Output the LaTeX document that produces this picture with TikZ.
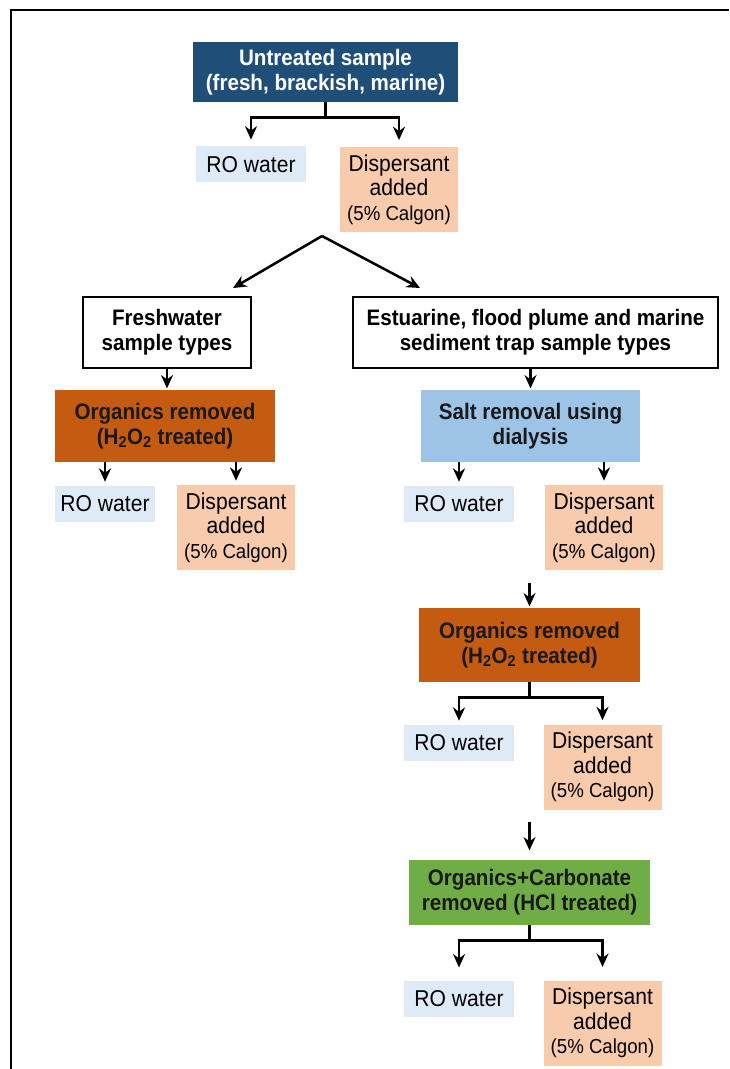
\documentclass[tikz,border=0pt]{standalone}
\usepackage{fontspec}
\setmainfont{Liberation Sans}[FakeStretch=0.92]
\usepackage{xcolor}
\usetikzlibrary{positioning,arrows.meta}
\definecolor{navy}{HTML}{1F4E79}
\definecolor{roblue}{HTML}{DEEBF7}
\definecolor{peach}{HTML}{F8CBAD}
\definecolor{rust}{HTML}{C55A11}
\definecolor{saltblue}{HTML}{9DC3E6}
\definecolor{leaf}{HTML}{70AD47}
\newcommand{\bx}{\bfseries\fontsize{16.8}{18.5}\selectfont}
\newcommand{\rg}{\fontsize{17.2}{18.5}\selectfont}
\newcommand{\disptext}{Dispersant\\added\\{\fontsize{15.2}{17}\selectfont(5\% Calgon)}}

\begin{document}
\begin{tikzpicture}[x=0.75pt, y=-0.75pt,
  hdr/.style = {rectangle, fill=navy, text=white, font=\bx, align=center, minimum width=198.75pt, minimum height=45pt},
  typ/.style = {draw, rectangle, line width=1.1pt, font=\bx, align=center, minimum height=53.5pt},
  trt/.style = {rectangle, font=\bx, text=black!90, align=center, minimum height=54pt},
  ro/.style = {rectangle, fill=roblue, font=\rg, minimum width=82.5pt, minimum height=27pt},
  disp/.style = {rectangle, fill=peach, font=\rg, align=center, minimum width=88.5pt, minimum height=63.75pt, inner sep=0pt},
  arr/.style = {-{Stealth[length=10pt,width=9pt]}, line width=1.9pt}]
		\useasboundingbox (0,0) rectangle (729,1069);
		\draw[line width=1.6pt] (11,1069) -- (11,10) -- (729,10);
		\node[hdr] (top) at (325.5,72) {Untreated sample\\(fresh, brackish, marine)};
		\node[ro] (ro1) at (251,164.5) {RO water};
		\node[disp] (dis1) at (399,189.5) {\disptext};
		\coordinate (apex) at (322,236);
		\coordinate (fwtip) at (233,288);
		\coordinate (esttip) at (420,288);
		\node[typ, minimum width=126pt] (fw) at (167,332.5) {Freshwater\\sample types};
		\node[typ, minimum width=273.75pt] (est) at (535.5,332.5) {Estuarine, flood plume and marine\\sediment trap sample types};
		\node[trt, fill=rust, minimum width=165pt] (org1) at (165,426) {Organics removed\\(H\textsubscript{2}O\textsubscript{2} treated)};
		\node[trt, fill=saltblue, minimum width=164.25pt] (salt) at (530.5,426) {Salt removal using\\dialysis};
		\node[ro, minimum width=75pt] (ro2) at (105,504) {RO water};
		\node[disp] (dis2) at (236,527.5) {\disptext};
		\node[ro] (ro3) at (459,504) {RO water};
		\node[disp] (dis3) at (604,527.5) {\disptext};
		\node[trt, fill=rust, minimum width=165.75pt, minimum height=55.5pt] (org2) at (529.5,645) {Organics removed\\(H\textsubscript{2}O\textsubscript{2} treated)};
		\node[ro] (ro4) at (459,743) {RO water};
		\node[disp] (dis4) at (602.5,767) {\disptext};
		\node[trt, fill=leaf, minimum width=180.75pt, minimum height=48.75pt] (carb) at (529.5,892.5) {Organics+Carbonate\\removed (HCl treated)};
		\node[ro] (ro5) at (459,999) {RO water};
		\node[disp] (dis5) at (602.5,1023) {\disptext};
		\draw[arr, shorten >=5pt] (top.south) -- ++(0,15) -| (ro1.north);
		\draw[arr, shorten >=5pt] (top.south) -- ++(0,15) -| (dis1.north);
		\draw[arr] (apex) -- (fwtip);
		\draw[arr] (apex) -- (esttip);
		\draw[arr, shorten >=1pt] (fw.south) -- (org1.north -| fw.south);
		\draw[arr, shorten >=1pt] (est.south -| salt.north) -- (salt.north);
		\draw[arr, shorten >=3pt] (org1.south -| ro2.north) -- (ro2.north);
		\draw[arr, shorten >=3pt] (org1.south -| dis2.north) -- (dis2.north);
		\draw[arr, shorten >=3pt] (salt.south -| ro3.north) -- (ro3.north);
		\draw[arr, shorten >=3pt] (salt.south -| dis3.north) -- (dis3.north);
		\draw[arr, shorten >=1pt] (org2.north) ++(0,-25) -- (org2.north);
		\draw[arr, shorten >=3pt] (org2.south) -- ++(0,15) -| (ro4.north);
		\draw[arr, shorten >=3pt] (org2.south) -- ++(0,15) -| (dis4.north);
		\draw[arr, shorten >=7pt] (carb.north) ++(0,-38) -- (carb.north);
		\draw[arr, shorten >=10pt] (carb.south) -- ++(0,15) -| (ro5.north);
		\draw[arr, shorten >=10pt] (carb.south) -- ++(0,15) -| (dis5.north);
\end{tikzpicture}
\end{document}
